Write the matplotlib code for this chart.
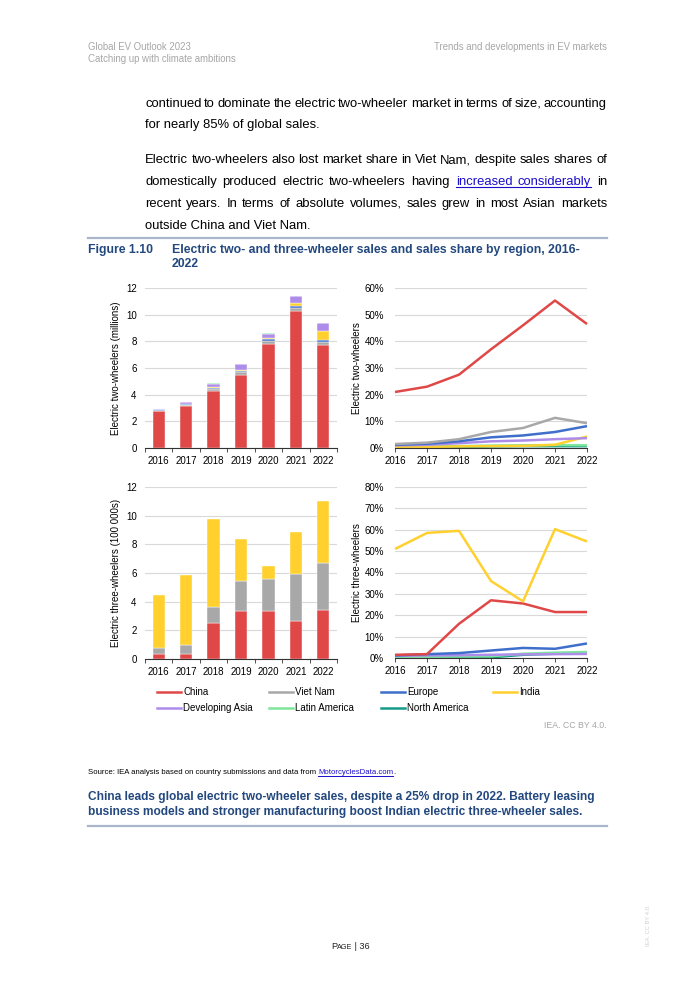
import matplotlib
matplotlib.use('Agg')
import matplotlib.pyplot as plt
import numpy as np
from matplotlib.lines import Line2D
from matplotlib.ticker import PercentFormatter, FixedLocator

plt.rcParams['font.family'] = ['Liberation Sans', 'DejaVu Sans']

years = [2016, 2017, 2018, 2019, 2020, 2021, 2022]
regions = ['China', 'Viet Nam', 'Europe', 'India',
           'Developing Asia', 'Latin America', 'North America']
colors = {'China': '#E04848', 'Viet Nam': '#A8A8A8', 'Europe': '#3F6FCB',
          'India': '#FFD02E', 'Developing Asia': '#AE8DEA',
          'Latin America': '#7EE69C', 'North America': '#159A8A'}

# two-wheeler sales, millions
tw_sales = {
    'China':           [2.75, 3.15, 4.25, 5.45, 7.80, 10.25, 7.70],
    'Viet Nam':        [0.06, 0.10, 0.18, 0.22, 0.24, 0.28, 0.25],
    'Europe':          [0.02, 0.03, 0.05, 0.08, 0.10, 0.12, 0.12],
    'India':           [0.01, 0.02, 0.07, 0.10, 0.08, 0.20, 0.70],
    'Developing Asia': [0.08, 0.12, 0.28, 0.42, 0.36, 0.52, 0.60],
    'Latin America':   [0.01, 0.01, 0.01, 0.02, 0.02, 0.02, 0.02],
    'North America':   [0.01, 0.01, 0.01, 0.01, 0.01, 0.01, 0.01],
}
# two-wheeler sales share, %
tw_share = {
    'China':           [21.0, 23.0, 27.5, 37.0, 46.0, 55.3, 46.5],
    'Viet Nam':        [1.5, 2.0, 3.3, 6.0, 7.5, 11.3, 9.3],
    'Europe':          [1.2, 1.6, 2.5, 4.0, 4.7, 6.0, 8.2],
    'India':           [0.3, 0.4, 0.6, 0.7, 0.8, 1.2, 4.3],
    'Developing Asia': [1.0, 1.2, 1.8, 2.5, 2.8, 3.3, 3.7],
    'Latin America':   [0.5, 0.6, 0.7, 0.9, 1.0, 1.1, 1.0],
    'North America':   [0.3, 0.3, 0.4, 0.6, 0.7, 0.7, 0.7],
}
# three-wheeler sales, 100 000s
thw_sales = {
    'China':    [0.35, 0.35, 2.50, 3.35, 3.35, 2.65, 3.45],
    'Viet Nam': [0.45, 0.60, 1.15, 2.10, 2.20, 3.25, 3.25],
    'India':    [3.65, 4.90, 6.10, 2.95, 0.95, 2.95, 4.30],
}
# three-wheeler sales share, %
thw_share = {
    'China':           [1.5, 1.8, 16.0, 27.0, 25.5, 21.5, 21.5],
    'Europe':          [1.2, 1.8, 2.3, 3.5, 4.7, 4.3, 6.8],
    'India':           [51.0, 58.5, 59.5, 36.0, 26.5, 60.3, 54.5],
    'Developing Asia': [1.0, 1.2, 1.3, 1.5, 1.7, 1.8, 1.9],
    'Latin America':   [0.5, 0.6, 0.7, 0.8, 2.0, 2.5, 2.8],
    'North America':   [0.2, 0.3, 0.3, 0.3, 1.5, 2.0, 2.2],
}

W, H = 700, 990
fig = plt.figure(figsize=(7, 9.9), dpi=100)
renderer = fig.canvas.get_renderer()

def fx(x):
    return x / W

def fy(y):
    return 1 - y / H

def ptext(x, y, s, **kw):
    kw.setdefault('va', 'center')
    return fig.text(fx(x), fy(y), s, **kw)

def hline(x0, x1, y, color, lw):
    fig.add_artist(Line2D([fx(x0), fx(x1)], [fy(y), fy(y)], color=color, lw=lw))

def width_of(s, **kw):
    t = fig.text(0, 0, s, **kw)
    w = t.get_window_extent(renderer).width
    t.remove()
    return w

def justified(parts, x0, y, x1, **kw):
    # parts: list of (text, color, underline); words spread from x0 to x1, y is the baseline
    words = []
    for txt, col, ul in parts:
        for w in txt.split():
            words.append((w, col, ul))
    widths = [width_of(w, **kw) for w, _, _ in words]
    gap = (x1 - x0 - sum(widths)) / (len(words) - 1)
    x = x0
    ul_start = None
    for i, ((w, col, ul), wd) in enumerate(zip(words, widths)):
        ptext(x, y, w, color=col, va='baseline', **kw)
        if ul:
            if ul_start is None:
                ul_start = x
            nxt = words[i + 1][2] if i + 1 < len(words) else False
            if not nxt:
                hline(ul_start, x + wd, y + 2, col, 0.8)
                ul_start = None
        x += wd + gap

def run(parts, x, y, **kw):
    for txt, size in parts:
        ptext(x, y, txt, size=size, va='baseline', **kw)
        x += width_of(txt, size=size, **kw)

def px_axes(l, t, r, b):
    return fig.add_axes([fx(l), fy(b), (r - l) / W, (b - t) / H])

# header
hc = '#A6A6A6'
ptext(88, 47, 'Global EV Outlook 2023', size=6.9, color=hc)
ptext(88, 59, 'Catching up with climate ambitions', size=6.9, color=hc)
ptext(607, 47, 'Trends and developments in EV markets', size=6.9, color=hc, ha='right')

# body text (y values are baselines)
bs = 9.4
k = '#000000'
link = '#1a0dcc'
justified([('continued to dominate the electric two-wheeler market in terms of size, accounting', k, False)],
          145, 107, 607, size=bs)
ptext(145, 128, 'for nearly 85% of global sales.', size=bs, color=k, va='baseline')
justified([('Electric two-wheelers also lost market share in Viet Nam, despite sales shares of', k, False)],
          145, 163, 607, size=bs)
justified([('domestically produced electric two-wheelers having', k, False),
           ('increased considerably', link, True), ('in', k, False)], 145, 185, 607, size=bs)
justified([('recent years. In terms of absolute volumes, sales grew in most Asian markets', k, False)],
          145, 207, 607, size=bs)
ptext(145, 229, 'outside China and Viet Nam.', size=bs, color=k, va='baseline')

# figure title
tc = '#23487F'
hline(88, 607, 238, '#A9B6CB', 1.6)
ptext(88, 250, 'Figure 1.10', size=8.8, weight='bold', color=tc)
ptext(172, 250, 'Electric two- and three-wheeler sales and sales share by region, 2016-',
      size=8.8, weight='bold', color=tc)
ptext(172, 264, '2022', size=8.8, weight='bold', color=tc)

ts = 7
grid_c = '#D9D9D9'

def style_bar(ax, top, label):
    x = np.arange(len(years))
    ax.set_xlim(-0.5, len(years) - 0.5)
    ax.set_ylim(0, top)
    ax.set_yticks(np.arange(0, top + 1, 2))
    ax.set_xticks(x)
    ax.set_xticklabels(years)
    ax.xaxis.set_minor_locator(FixedLocator(np.arange(-0.5, len(years), 1.0)))
    ax.tick_params(axis='x', which='major', length=0, labelsize=ts, pad=6)
    ax.tick_params(axis='x', which='minor', length=3, width=0.6, color='#333333')
    ax.tick_params(axis='y', length=0, labelsize=ts, pad=6)
    for s in ['top', 'right', 'left']:
        ax.spines[s].set_visible(False)
    ax.spines['bottom'].set_color('#333333')
    ax.spines['bottom'].set_linewidth(0.8)
    ax.grid(axis='y', color=grid_c, lw=0.8)
    ax.set_axisbelow(True)
    ax.set_ylabel(label, size=ts)
    ax.yaxis.set_label_coords(-0.125, 0.5)

def style_line(ax, top, label):
    ax.set_xlim(years[0], years[-1])
    ax.set_ylim(0, top)
    ax.set_yticks(np.arange(0, top + 1, 10))
    ax.yaxis.set_major_formatter(PercentFormatter(decimals=0))
    ax.set_xticks(years)
    ax.tick_params(axis='x', length=3, width=0.6, color='#333333', labelsize=ts, pad=3)
    ax.tick_params(axis='y', length=0, labelsize=ts, pad=8)
    for s in ['top', 'right', 'left']:
        ax.spines[s].set_visible(False)
    ax.spines['bottom'].set_color('#333333')
    ax.spines['bottom'].set_linewidth(0.8)
    ax.grid(axis='y', color=grid_c, lw=0.8)
    ax.set_axisbelow(True)
    ax.set_ylabel(label, size=ts)
    ax.yaxis.set_label_coords(-0.17, 0.5)

def stacked(ax, data):
    x = np.arange(len(years))
    bottom = np.zeros(len(years))
    for r in regions:
        if r not in data:
            continue
        v = np.array(data[r])
        ax.bar(x, v, 0.45, bottom=bottom, color=colors[r], edgecolor='white', linewidth=0.3)
        bottom += v

def lines(ax, data, order):
    for r in order:
        if r in data:
            ax.plot(years, data[r], color=colors[r], lw=1.8, solid_capstyle='butt', clip_on=False)

ax1 = px_axes(145, 288, 337, 448)
stacked(ax1, tw_sales)
style_bar(ax1, 12, 'Electric two-wheelers (millions)')

ax2 = px_axes(395, 288, 587, 448)
lines(ax2, tw_share, ['North America', 'Latin America', 'India', 'Developing Asia',
                      'Europe', 'Viet Nam', 'China'])
style_line(ax2, 60, 'Electric two-wheelers')

ax3 = px_axes(145, 487, 337, 659)
stacked(ax3, thw_sales)
style_bar(ax3, 12, 'Electric three-wheelers (100 000s)')

ax4 = px_axes(395, 487, 587, 658)
lines(ax4, thw_share, ['North America', 'Latin America', 'Developing Asia', 'Europe',
                       'China', 'India'])
style_line(ax4, 80, 'Electric three-wheelers')

# legend
leg_x = [157, 269, 381, 493]
for i, r in enumerate(regions):
    row, col = divmod(i, 4)
    y = 692 + row * 16
    x = leg_x[col]
    fig.add_artist(Line2D([fx(x), fx(x + 24)], [fy(y), fy(y)], color=colors[r], lw=1.8))
    ptext(x + 26, y, r, size=7)

ptext(606, 725, 'IEA. CC BY 4.0.', size=6.3, color='#A6A6A6', ha='right')

# source
src = 'Source: IEA analysis based on country submissions and data from '
ss = 5.6
ptext(88, 774, src, size=ss, color=k, va='baseline')
lx = 88 + width_of(src, size=ss)
ptext(lx, 774, 'MotorcyclesData.com', size=ss, color=link, va='baseline')
lw_ = width_of('MotorcyclesData.com', size=ss)
hline(lx, lx + lw_, 775.5, link, 0.7)
ptext(lx + lw_, 774, '.', size=ss, color=k, va='baseline')

bc = '#23487F'
ptext(88, 797, 'China leads global electric two-wheeler sales, despite a 25% drop in 2022. Battery leasing',
      size=8.6, weight='bold', color=bc)
ptext(88, 812, 'business models and stronger manufacturing boost Indian electric three-wheeler sales.',
      size=8.6, weight='bold', color=bc)
hline(88, 607, 826, '#A9B6CB', 1.6)

# page number
run([('P', 6.6), ('AGE', 5.2), (' | 36', 6.6)], 331, 949, color='#222222')

ptext(648, 925, 'IEA. CC BY 4.0.', size=4.2, color='#D0D0D0', rotation=90, ha='center')

fig.savefig('out.png', dpi=100)
